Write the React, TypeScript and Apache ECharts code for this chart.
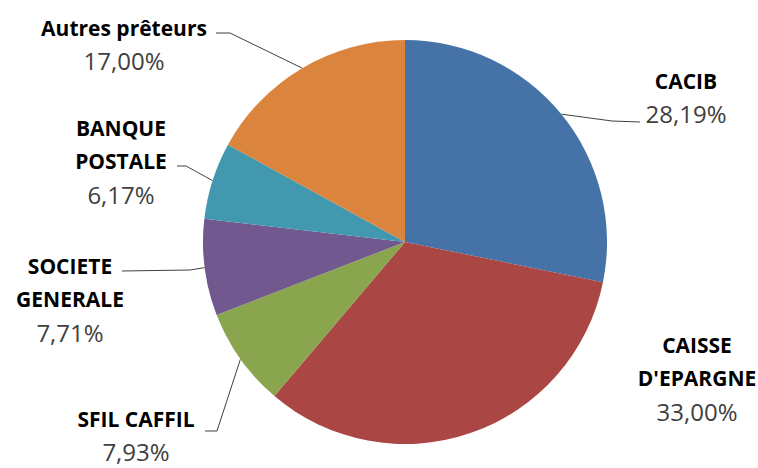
import React, { useEffect, useRef } from "react";
import * as echarts from "echarts";

const lenders = ["CACIB", "CAISSE D'EPARGNE", "SFIL CAFFIL", "SOCIETE GENERALE", "BANQUE POSTALE", "Autres prêteurs"];
const labelLines = [["CACIB"], ["CAISSE", "D'EPARGNE"], ["SFIL CAFFIL"], ["SOCIETE", "GENERALE"], ["BANQUE", "POSTALE"], ["Autres prêteurs"]];
const shares = [28.19, 33.0, 7.93, 7.71, 6.17, 17.0];
const colors = ["#4572A7", "#AA4643", "#89A54E", "#71588F", "#4198AF", "#DB843D"];

// label anchor (center) and leader-line elbow/end per slice
const labelPos = [
  { x: 686, y: 97, elbow: [612, 121], end: [640, 122] },
  { x: 697, y: 378, elbow: null, end: null },
  { x: 136, y: 435, elbow: [217, 431], end: [205, 431] },
  { x: 70, y: 299, elbow: [190, 270], end: [122, 271] },
  { x: 121, y: 161, elbow: [186, 166], end: [177, 166] },
  { x: 124, y: 44, elbow: [230, 33], end: [216, 33] },
];

export default function App() {
  const ref = useRef<HTMLDivElement>(null);
  useEffect(() => {
    if (!ref.current) return;
    const chart = echarts.init(ref.current, undefined, { renderer: "svg" });
    const fmtPct = (v: number) => v.toFixed(2).replace(".", ",") + "%";
    chart.setOption({
      animation: false,
      backgroundColor: "#ffffff",
      series: [
        {
          type: "pie",
          center: [405, 242],
          radius: 202,
          startAngle: 90,
          clockwise: true,
          avoidLabelOverlap: false,
          itemStyle: { borderWidth: 0 },
          label: {
            show: true,
            position: "outside",
            fontFamily: "Open Sans",
            formatter: (p: any) => {
              const lines = labelLines[p.dataIndex].map((l) => `{n|${l}}`).join("\n");
              return `${lines}\n{p|${fmtPct(shares[p.dataIndex])}}`;
            },
            rich: {
              n: { fontFamily: "Open Sans", fontWeight: "bold", fontSize: 21, color: "#000000", lineHeight: 33, align: "center" },
              p: { fontFamily: "Open Sans", fontSize: 24, color: "#404040", lineHeight: 33, align: "center" },
            },
          },
          labelLine: { show: true, lineStyle: { color: "#404040", width: 1 } },
          labelLayout: (params: any) => {
            const lp = labelPos[params.dataIndex];
            const res: any = { x: lp.x, y: lp.y, align: "center", verticalAlign: "middle" };
            if (lp.elbow && params.labelLinePoints) {
              const start = params.labelLinePoints[0];
              res.labelLinePoints = [start, lp.elbow, lp.end];
            }
            return res;
          },
          data: lenders.map((name, i) => ({
            name,
            value: shares[i],
            itemStyle: { color: colors[i] },
            labelLine: { show: labelPos[i].elbow !== null },
          })),
        },
      ],
    });
    return () => chart.dispose();
  }, []);
  return <div ref={ref} style={{ position: "fixed", left: 0, top: 0, width: 758, height: 468 }} />;
}
